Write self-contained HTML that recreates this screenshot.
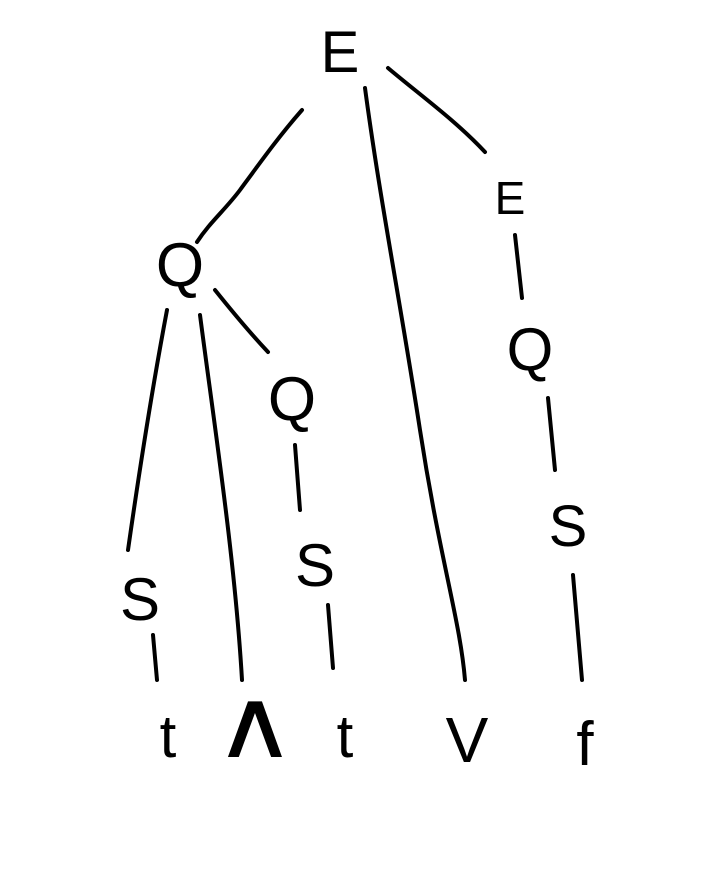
<!DOCTYPE html>
<html>
<head>
<meta charset="utf-8">
<style>
html,body{margin:0;padding:0;background:#fff;}
svg{display:block;}
text{font-family:"Liberation Sans",sans-serif;fill:#000;text-anchor:middle;}
path{fill:none;stroke:#000;stroke-width:4;stroke-linecap:round;stroke-linejoin:round;}
</style>
</head>
<body>
<svg width="724" height="872" viewBox="0 0 724 872">
  <rect width="724" height="872" fill="#fff"/>
  <text x="340" y="72" font-size="58">E</text>
  <text x="510" y="214" font-size="46">E</text>
  <text x="180" y="286" font-size="62">Q</text>
  <text x="292" y="420" font-size="62">Q</text>
  <text x="530" y="370" font-size="60">Q</text>
  <text x="140" y="620" font-size="60">S</text>
  <text x="315" y="586" font-size="60">S</text>
  <text x="568" y="546" font-size="58">S</text>
  <text x="168" y="757" font-size="60">t</text>
  <text x="0" y="0" font-size="60" transform="translate(255,757) scale(1.9,1.6)">∧</text>
  <text x="345" y="757" font-size="60">t</text>
  <text x="467" y="762" font-size="64">V</text>
  <text x="585" y="765" font-size="62">f</text>
  <g>
    <path d="M302,110 C280,135 262,160 240,190 C225,210 210,222 197,242"/>
    <path d="M365,88 C380,200 400,300 420,430 C440,560 460,620 465,680"/>
    <path d="M388,68 C420,95 455,120 485,152"/>
    <path d="M515,235 L522,298"/>
    <path d="M548,398 L555,470"/>
    <path d="M573,575 L582,680"/>
    <path d="M167,310 C150,400 138,480 128,550"/>
    <path d="M200,315 C215,430 235,560 242,680"/>
    <path d="M215,290 C235,315 252,335 268,352"/>
    <path d="M295,445 L300,510"/>
    <path d="M328,605 L333,668"/>
    <path d="M153,635 L157,680"/>
  </g>
</svg>
</body>
</html>
